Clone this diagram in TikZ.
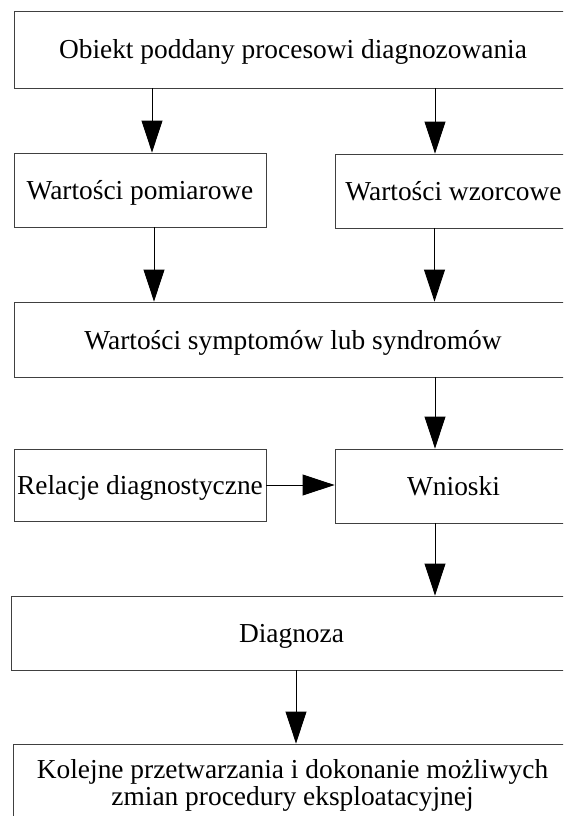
\documentclass[tikz,border=0pt]{standalone}
\usepackage{fontspec}
\setmainfont{Liberation Serif}
\usepackage{tikz}
\usetikzlibrary{arrows.meta,positioning,calc}

\begin{document}
\begin{tikzpicture}[x=1pt, y=-1pt, font=\fontsize{27.4}{27}\selectfont,
    box/.style={draw=black!75, line width=0.9pt, rectangle, inner sep=2pt},
    onebox/.style={box, text height=19pt, text depth=0pt},
    arr/.style={-{Triangle[length=32pt, width=21pt]}, line width=0.9pt}]
    \useasboundingbox (0,0) rectangle (563,816);
    \clip (0,0) rectangle (563,816);

    % Object
    \node[onebox, minimum width=558pt, minimum height=77pt] (obiekt) at (293, 49.5) {Obiekt poddany procesowi diagnozowania};

    % Measured and reference values
    \node[onebox, minimum width=252pt, minimum height=74pt] (pom) at (140, 190) {Wartości pomiarowe};
    \node[onebox, minimum width=237pt, minimum height=74pt] (wz) at (453.5, 191) {Wartości wzorcowe};

    % Symptoms
    \node[onebox, minimum width=558pt, minimum height=75pt] (symp) at (293, 339.5) {Wartości symptomów lub syndromów};

    % Relations and conclusions
    \node[onebox, minimum width=252pt, minimum height=72pt] (rel) at (140, 485) {Relacje diagnostyczne};
    \node[onebox, minimum width=237pt, minimum height=74pt] (wn) at (453.5, 486) {Wnioski};

    % Diagnosis
    \node[onebox, minimum width=561pt, minimum height=74pt] (diag) at (291.5, 633) {Diagnoza};
    \node[box, align=center, minimum width=559pt, minimum height=82pt] (kol) at (292.5, 785) {Kolejne przetwarzania i dokonanie możliwych\\zmian procedury eksploatacyjnej};

    % Arrows
    \draw[arr] ([xshift=12pt]pom.north |- obiekt.south) -- ([xshift=12pt]pom.north);
    \draw[arr] ([xshift=-18.5pt]wz.north |- obiekt.south) -- ([xshift=-18.5pt]wz.north);
    \draw[arr] ([xshift=14pt]pom.south) -- ([xshift=14pt]pom.south |- symp.north);
    \draw[arr] ([xshift=-19pt]wz.south) -- ([xshift=-19pt]wz.south |- symp.north);
    \draw[arr] ([xshift=-18.5pt]wn.north |- symp.south) -- ([xshift=-18.5pt]wn.north);
    \draw[arr] (rel.east) -- (rel.east -| wn.west);
    \draw[arr] ([xshift=-18.5pt]wn.south) -- ([xshift=-18.5pt]wn.south |- diag.north);
    \draw[arr] ([xshift=4.5pt]diag.south) -- ([xshift=4.5pt]diag.south |- kol.north);
\end{tikzpicture}
\end{document}
